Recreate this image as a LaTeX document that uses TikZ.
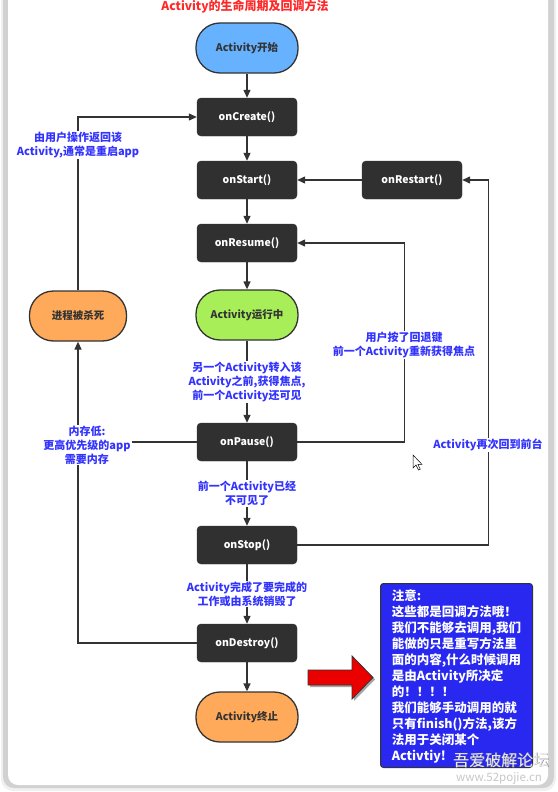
\documentclass[tikz,border=0pt]{standalone}
\usepackage{fontspec}
\setmainfont{Noto Sans CJK SC}
\usetikzlibrary{arrows.meta,calc}
\definecolor{lineC}{RGB}{51,51,51}
\definecolor{boxC}{RGB}{48,48,48}
\definecolor{blueN}{RGB}{102,178,255}
\definecolor{greenN}{RGB}{168,238,88}
\definecolor{orangeN}{RGB}{255,170,90}
\definecolor{lblC}{RGB}{51,51,255}
\definecolor{titleC}{RGB}{255,40,40}
\definecolor{noteC}{RGB}{40,40,240}
\definecolor{redA}{RGB}{235,0,0}
\newcommand\nodefnt{\fontsize{10.5}{13}\selectfont\bfseries}
\newcommand\lblfnt{\fontsize{11}{14}\selectfont\bfseries}
\begin{document}
\begin{tikzpicture}[x=1pt,y=-1pt,
  line/.style={draw=lineC, line width=1.3pt},
  arr/.style={line, -{Triangle[length=8pt,width=7pt]}},
  box/.style={draw=boxC, fill=boxC, rounded corners=4pt, minimum width=100pt, minimum height=38pt, text=white, font=\nodefnt, inner sep=0pt},
  stadium/.style={draw=lineC, line width=1.3pt, rounded corners=24pt, minimum width=102pt, minimum height=50pt, font=\nodefnt, text=lineC, inner sep=0pt},
  lbl/.style={fill=white, text=lblC, align=center, inner sep=1pt, font=\lblfnt},
  notebox/.style={draw=lineC, line width=1pt, fill=noteC, rounded corners=3pt, text=white, align=left, font=\fontsize{12.5}{16}\selectfont\bfseries, inner xsep=7pt, inner ysep=5pt, minimum width=152pt, minimum height=184pt, anchor=north west, text depth=0pt}
]
\useasboundingbox (0,0) rectangle (557,792);
% frame
\fill[white] (0,0) rectangle (557,792);
\fill[black!6, rounded corners=12pt] (1,-20) rectangle (556,791);
\fill[black!18, rounded corners=11pt] (3,-20) rectangle (554,788);
\fill[white, rounded corners=10pt] (8,-20) rectangle (548,785);

% title
\node[text=titleC, font=\fontsize{12}{14}\selectfont\bfseries] (title) at (245,7) {Activity的生命周期及回调方法};

% main column
\node[stadium, fill=blueN] (start) at (247,48) {Activity开始};
\node[box] (create) at (247,117) {onCreate()};
\node[box] (onstart) at (247,180) {onStart()};
\node[box] (resume) at (247,243) {onResume()};
\node[stadium, fill=greenN] (run) at (247,315) {Activity运行中};
\node[box] (pause) at (247,442) {onPause()};
\node[box] (stop) at (247,545) {onStop()};
\node[box] (destroy) at (247,643) {onDestroy()};
\node[stadium, fill=orangeN] (finish) at (247,717) {Activity终止};
\node[stadium, fill=orangeN, minimum width=97pt] (killed) at (78,316) {进程被杀死};
\node[box] (restart) at (412,180) {onRestart()};

% connectors
\draw[arr] (start) -- (create);
\draw[arr] (create) -- (onstart);
\draw[arr] (onstart) -- (resume);
\draw[arr] (resume) -- (run);
\draw[arr] (run) -- node[lbl] (l1) {另一个Activity转入该\\Activity之前,获得焦点,\\前一个Activity还可见} (pause);
\draw[arr] (pause) -- node[lbl] (l2) {前一个Activity已经\\不可见了} (stop);
\draw[arr] (stop) -- node[lbl] (l3) {Activity完成了要完成的\\工作或由系统销毁了} (destroy);
\draw[arr] (destroy) -- (finish);
\draw[arr] (restart) -- (onstart);
\draw[arr] (stop.east) -- ++(191,0) |- (restart.east);
\draw[arr] (pause.east) -- ++(107,0) |- (resume.east);
\draw[arr] (killed.north) |- (create.west);
\draw[arr] (destroy.west) -| (killed.south);
\draw[line] (pause.west) -- ++(-119,0);

% labels on bent connectors
\node[lbl] (l4) at (78,145) {由用户操作返回该\\Activity,通常是重启app};
\node[lbl] (l5) at (87,445) {内存低:\\更高优先级的app\\需要内存};
\node[lbl] (l6) at (404,345) {用户按了回退键\\前一个Activity重新获得焦点};
\node[lbl] (l7) at (488,445) {Activity再次回到前台};

% cursor
\draw[black, line width=0.5pt, fill=white, shift={(413,455)}] (0,0) -- (0,13) -- (3,10) -- (5.5,15) -- (7.3,14.2) -- (4.9,9.4) -- (9,9.4) -- cycle;

% red block arrow
\fill[black!35, shift={(2,2)}] (308,670) -- (352,670) -- (352,656) -- (373,677.5) -- (352,699) -- (352,685) -- (308,685) -- cycle;
\draw[fill=redA, draw=lineC, line width=0.8pt] (308,670) -- (352,670) -- (352,656) -- (373,677.5) -- (352,699) -- (352,685) -- (308,685) -- cycle;

% note box
\node[notebox] (note) at (380,583) {注意:\\这些都是回调方法哦！\\我们不能够去调用,我们\\能做的只是重写方法里\\面的内容,什么时候调用\\是由Activity所决定\\的！！！！\\我们能够手动调用的就\\只有finish()方法,该方\\法用于关闭某个\\Activtiy!};

% watermark
\node[text=black!45, font=\fontsize{16}{18}\selectfont] (wm1s) at (501.8,760.8) {吾爱破解论坛};
\node[text=black!8, font=\fontsize{16}{18}\selectfont] (wm1) at (501,760) {吾爱破解论坛};
\node[text=black!22, font=\fontsize{11.5}{13}\selectfont] (wm2) at (499,778) {www.52pojie.cn};
\end{tikzpicture}
\end{document}
